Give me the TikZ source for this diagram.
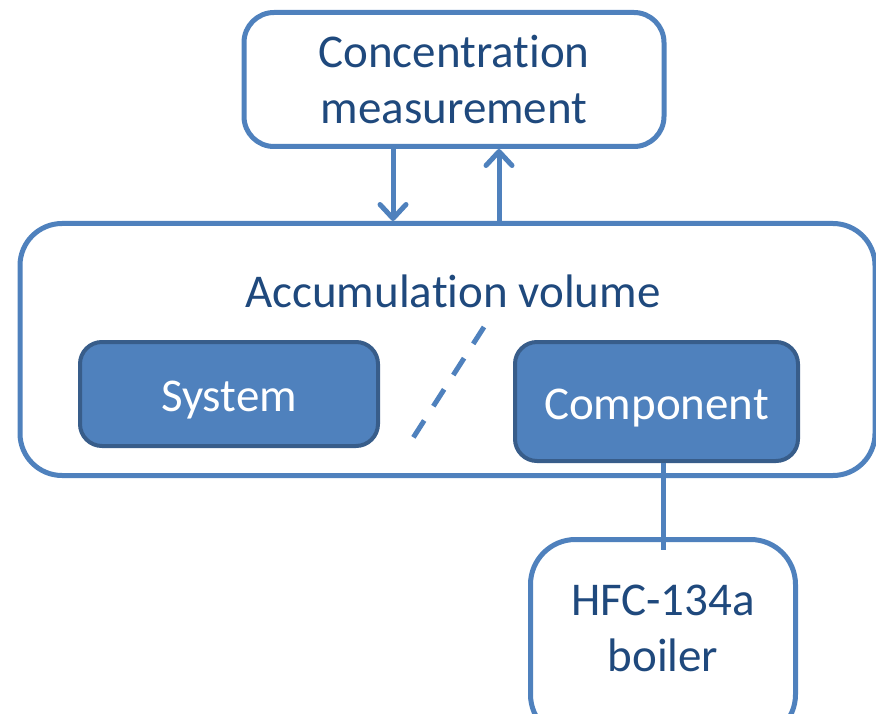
\documentclass[tikz,border=0pt]{standalone}
\usepackage{fontspec}
\setmainfont[Ligatures=NoCommon, RawFeature=-calt]{Carlito}
\usepackage{tikz}
\usetikzlibrary{arrows.meta,calc}
\definecolor{lineblue}{HTML}{4F81BD}
\definecolor{darkline}{HTML}{385D8A}
\definecolor{textblue}{HTML}{1F497D}
\tikzset{
  bigfont/.style={font=\fontsize{47}{56}\selectfont},
  outbox/.style={draw=lineblue, line width=5pt, fill=white, inner sep=0pt, text=textblue, bigfont, align=center},
  fillbox/.style={draw=darkline, line width=4pt, fill=lineblue, inner sep=0pt, text=white, bigfont, text height=35pt, text depth=0pt},
  flow/.style={draw=lineblue, line width=5pt, -{Straight Barb[length=14pt,width=26pt,line width=5pt,round]}},
  link/.style={draw=lineblue, line width=5pt}
}
\begin{document}
\begin{tikzpicture}[x=1pt,y=-1pt]
\useasboundingbox (0,0) rectangle (876,714);
\node[outbox, minimum width=420pt, minimum height=134pt, rounded corners=30pt] (meas) at (454,79.5) {Concentrat\kern0pt ion\\measurement};
\node[outbox, minimum width=855pt, minimum height=252pt, rounded corners=42pt] (acc) at (447.5,349.5) {};
\node[text=textblue, bigfont, anchor=base, inner sep=0pt] (acctext) at (453,308) {Accumulat\kern0pt ion volume};
\node[fillbox, minimum width=298pt, minimum height=104pt, rounded corners=22pt] (sys) at (229,394) {System};
\node[fillbox, minimum width=283pt, minimum height=119pt, rounded corners=22pt] (comp) at (656.5,401.5) {Component};
\node[outbox, minimum width=265pt, minimum height=200pt, rounded corners=45pt] (boiler) at (663,639.5) {};
\node[text=textblue, bigfont, align=center, anchor=north, inner sep=0pt] (boilertext) at (663,585) {HFC-134a\\boiler};
\coordinate (dtop) at (484,327);
\coordinate (dbot) at (413,438);
\draw[flow] ([xshift=-61pt]meas.south) -- ([xshift=-61pt]meas.south |- acc.north);
\draw[flow] ([xshift=45pt]meas.south |- acc.north) -- ([xshift=45pt]meas.south);
\draw[link, dash pattern=on 20pt off 17pt] (dtop) -- (dbot);
\draw[link] (comp.south -| boiler.north) -- ([yshift=-13pt]boiler.north);
\end{tikzpicture}
\end{document}
